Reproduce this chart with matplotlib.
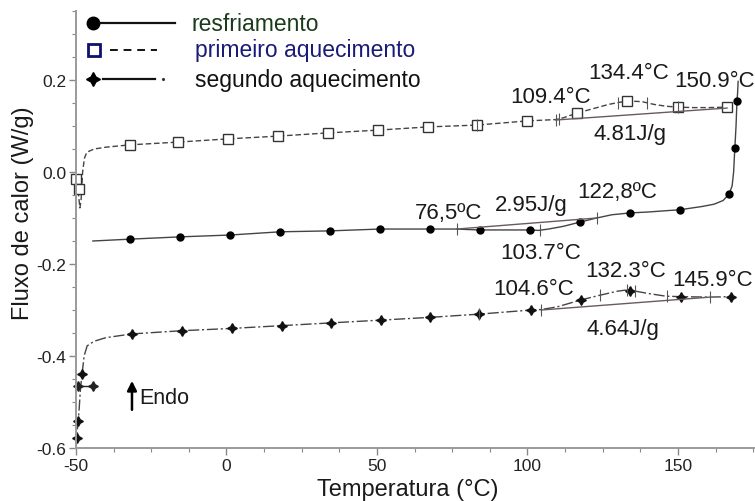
import matplotlib
matplotlib.use("Agg")
import matplotlib.pyplot as plt
from matplotlib.ticker import MultipleLocator

plt.rcParams['font.family'] = ['Liberation Sans', 'DejaVu Sans']
plt.rcParams['axes.unicode_minus'] = False

# ---------------- data ----------------
# resfriamento (cooling) curve
cool_T = [170.0, 169.8, 169.6, 169.3, 168.9, 168.5, 168.0, 167.0, 165.0, 162.0, 158.0,
          150.7, 140.0, 134.0, 128.0, 123.0, 117.4, 112.0, 107.0, 103.7, 100.8, 95.0,
          90.0, 84.2, 80.0, 76.5, 67.6, 51.0, 34.4, 17.8, 1.2, -15.4, -32.1, -44.4]
cool_Q = [0.197, 0.170, 0.154, 0.100, 0.052, 0.000, -0.030, -0.048, -0.062, -0.070, -0.075,
          -0.082, -0.087, -0.089, -0.093, -0.100, -0.109, -0.118, -0.124, -0.127, -0.126, -0.126,
          -0.126, -0.126, -0.125, -0.124, -0.124, -0.124, -0.128, -0.130, -0.137, -0.141, -0.146, -0.150]
cool_mk_T = [-32.1, -15.4, 1.2, 17.8, 34.4, 51.0, 67.6, 84.2, 100.8, 117.4, 134.0, 150.7, 166.9, 168.9, 169.6]
cool_mk_Q = [-0.146, -0.141, -0.137, -0.130, -0.128, -0.124, -0.124, -0.126, -0.126, -0.109, -0.089,
             -0.082, -0.048, 0.052, 0.154]
cool_base_T = [76.5, 123.0]
cool_base_Q = [-0.124, -0.100]
cool_tick_T = [76.5, 104.2, 123.0]
cool_tick_Q = [-0.124, -0.127, -0.100]

# primeiro aquecimento (first heating)
h1_T = [-50.0, -49.7, -49.4, -49.0, -48.7, -48.3, -47.8, -47.2, -46.4, -44.0, -40.0, -32.1,
        -16.1, 0.5, 17.1, 33.7, 50.3, 66.9, 83.2, 99.8, 109.4, 112.0, 116.4, 122.0, 127.0,
        131.0, 134.4, 138.0, 142.0, 146.0, 150.0, 155.0, 160.0, 166.3, 168.0]
h1_Q = [-0.005, -0.015, -0.030, -0.060, -0.078, -0.060, 0.000, 0.030, 0.043, 0.050, 0.054, 0.059,
        0.065, 0.072, 0.078, 0.085, 0.091, 0.098, 0.102, 0.111, 0.114, 0.118, 0.128, 0.138, 0.147,
        0.152, 0.154, 0.153, 0.147, 0.143, 0.141, 0.140, 0.140, 0.141, 0.141]
h1_mk_T = [-50.0, -49.0, -32.1, -16.1, 0.5, 17.1, 33.7, 50.3, 66.9, 83.2, 99.8, 116.4, 133.1, 150.0, 166.3]
h1_mk_Q = [-0.015, -0.037, 0.059, 0.065, 0.072, 0.078, 0.085, 0.091, 0.098, 0.102, 0.111, 0.128,
           0.154, 0.141, 0.141]
h1_base_T = [109.4, 166.3]
h1_base_Q = [0.113, 0.139]
h1_tick_T = [83.2, 109.4, 110.6, 130.0, 139.7, 150.0]
h1_tick_Q = [0.102, 0.114, 0.115, 0.151, 0.151, 0.141]

# segundo aquecimento (second heating)
h2_T = [-50.0, -49.8, -49.4, -49.0, -48.5, -48.0, -47.3, -46.3, -44.0, -40.0, -31.4, -14.8,
        1.8, 18.4, 34.7, 51.3, 67.6, 83.9, 101.2, 104.6, 110.0, 117.8, 124.0, 130.0, 132.3,
        135.0, 140.0, 146.0, 151.0, 160.0, 167.6]
h2_Q = [-0.600, -0.578, -0.550, -0.520, -0.470, -0.440, -0.400, -0.378, -0.368, -0.360, -0.352, -0.345,
        -0.340, -0.334, -0.328, -0.322, -0.316, -0.309, -0.300, -0.299, -0.293, -0.278, -0.268, -0.259, -0.257,
        -0.258, -0.264, -0.270, -0.271, -0.272, -0.271]
h2_mk_T = [-49.8, -49.3, -48.0, -31.4, -14.8, 1.8, 18.4, 34.7, 51.3, 67.6, 83.9, 101.2, 117.8, 134.0, 151.0, 167.6]
h2_mk_Q = [-0.578, -0.541, -0.440, -0.352, -0.345, -0.340, -0.334, -0.328, -0.322, -0.316, -0.309,
           -0.300, -0.278, -0.258, -0.271, -0.271]
h2_seg_T = [-49.5, -44.3]
h2_seg_Q = [-0.465, -0.465]
h2_base_T = [104.6, 160.6]
h2_base_Q = [-0.300, -0.272]
h2_tick_T = [83.9, 104.6, 124.0, 133.0, 135.7, 146.3, 160.6]
h2_tick_Q = [-0.309, -0.299, -0.268, -0.257, -0.259, -0.270, -0.272]

x_ticks = [-50, 0, 50, 100, 150]
x_tick_labels = ['-50', '0', '50', '100', '150']
y_ticks = [-0.6, -0.4, -0.2, 0.0, 0.2]
y_tick_labels = ['-0.6', '-0.4', '-0.2', '0.0', '0.2']

# annotations: (text, T, Q)
annotations = [
    ('109.4°C', 107.8, 0.165), ('134.4°C', 133.7, 0.217), ('150.9°C', 162.3, 0.198),
    ('4.81J/g', 134.1, 0.083),
    ('76,5ºC', 73.9, -0.087), ('2.95J/g', 101.2, -0.070), ('122,8ºC', 129.7, -0.043),
    ('103.7°C', 104.5, -0.174),
    ('104.6°C', 102.2, -0.254), ('132.3°C', 132.7, -0.215), ('145.9°C', 161.6, -0.233),
    ('4.64J/g', 131.7, -0.341),
]

legend_labels = ['resfriamento', 'primeiro aquecimento', 'segundo aquecimento']
legend_colors = ['#1c3a1c', '#1a1a78', '#111111']

# ---------------- figure ----------------
fig = plt.figure(figsize=(7.55, 5.02), dpi=100)
ax = fig.add_axes([76 / 755, 53 / 502, 679 / 755, 437 / 502])

line_col = '#444444'
base_col = '#6a5a5a'

# cooling
ax.plot(cool_T, cool_Q, color=line_col, lw=1.0, ls='-')
ax.plot(cool_mk_T, cool_mk_Q, ls='none', marker='o', ms=5, color='black', clip_on=False)
ax.plot(cool_base_T, cool_base_Q, color=base_col, lw=1.0)
ax.plot(cool_tick_T, cool_tick_Q, ls='none', marker='|', ms=9, mew=0.8, color='#555555')

# first heating
ax.plot(h1_T, h1_Q, color=line_col, lw=1.0, dashes=[4, 2])
ax.plot(h1_mk_T, h1_mk_Q, ls='none', marker='s', ms=6.5, mfc='white', mec='#333333', mew=1.0,
        clip_on=False)
ax.plot(h1_base_T, h1_base_Q, color=base_col, lw=1.0)
ax.plot(h1_tick_T, h1_tick_Q, ls='none', marker='|', ms=9, mew=0.8, color='#555555')

# second heating
ax.plot(h2_T, h2_Q, color=line_col, lw=1.0, dashes=[8, 2, 1.5, 2])
ax.plot(h2_seg_T, h2_seg_Q, color='#222222', lw=1.0, marker=(4, 1, 0), ms=7, clip_on=False)
ax.plot(h2_mk_T, h2_mk_Q, ls='none', marker=(4, 1, 0), ms=7, color='#111111', clip_on=False)
ax.plot(h2_base_T, h2_base_Q, color=base_col, lw=1.0)
ax.plot(h2_tick_T, h2_tick_Q, ls='none', marker='|', ms=9, mew=0.8, color='#555555')

for txt, tx, ty in annotations:
    ax.text(tx, ty, txt, fontsize=16, ha='center', va='center', color='#1a1a1a')

# Endo arrow
ax.annotate('', xy=(-31.4, -0.448), xytext=(-31.4, -0.523),
            arrowprops=dict(arrowstyle='-|>', color='black', lw=1.8, mutation_scale=14))
ax.text(-29.0, -0.490, 'Endo', fontsize=15.5, ha='left', va='center', color='#1a1a1a')

# manual legend (axes fraction)
tr = ax.transAxes
ax.plot([0.025], [0.9725], transform=tr, marker='o', ms=9, color='black', clip_on=False)
ax.plot([0.035, 0.146], [0.9725, 0.9725], transform=tr, color='#111111', lw=1.6, clip_on=False)
ax.plot([0.0265], [0.9108], transform=tr, marker='s', ms=8, mfc='white', mec='#10106e', mew=2.0,
        clip_on=False)
ax.plot([0.050, 0.119], [0.9108, 0.9108], transform=tr, color='#111111', lw=1.4, dashes=[4, 3],
        clip_on=False)
ax.plot([0.025], [0.844], transform=tr, marker=(4, 1, 0), ms=10, color='black', clip_on=False)
ax.plot([0.0398, 0.1163], [0.844, 0.844], transform=tr, color='#111111', lw=1.6, clip_on=False)
ax.plot([0.128], [0.844], transform=tr, marker='.', ms=2.5, color='#333333', clip_on=False)
ax.text(0.1708, 0.9725, legend_labels[0], transform=tr, fontsize=16.5, va='center', ha='left',
        color=legend_colors[0])
ax.text(0.175, 0.9108, legend_labels[1], transform=tr, fontsize=16.5, va='center', ha='left',
        color=legend_colors[1])
ax.text(0.175, 0.844, legend_labels[2], transform=tr, fontsize=16.5, va='center', ha='left',
        color=legend_colors[2])

# axes styling
ax.set_xlim(-50, 175.6)
ax.set_ylim(-0.6, 0.35)
ax.set_xticks(x_ticks)
ax.set_xticklabels(x_tick_labels)
ax.set_yticks(y_ticks)
ax.set_yticklabels(y_tick_labels)
ax.xaxis.set_minor_locator(MultipleLocator(12.5))
ax.yaxis.set_minor_locator(MultipleLocator(0.05))
for s in ['top', 'right']:
    ax.spines[s].set_visible(False)
for s in ['left', 'bottom']:
    ax.spines[s].set_color('#9a9a9a')
    ax.spines[s].set_linewidth(1.4)
ax.tick_params(which='major', direction='out', length=5, width=1.0, color='#888888',
               labelsize=12.5, labelcolor='#222222', pad=2)
ax.tick_params(which='minor', direction='out', length=3, width=0.8, color='#888888')

ax.set_xlabel('Temperatura (°C)', fontsize=17, color='#1a1a1a')
ax.set_ylabel('Fluxo de calor (W/g)', fontsize=17, color='#1a1a1a')
ax.xaxis.set_label_coords(0.489, -0.068)
ax.yaxis.set_label_coords(-0.062, 0.54)

fig.savefig('out.png', dpi=100)
